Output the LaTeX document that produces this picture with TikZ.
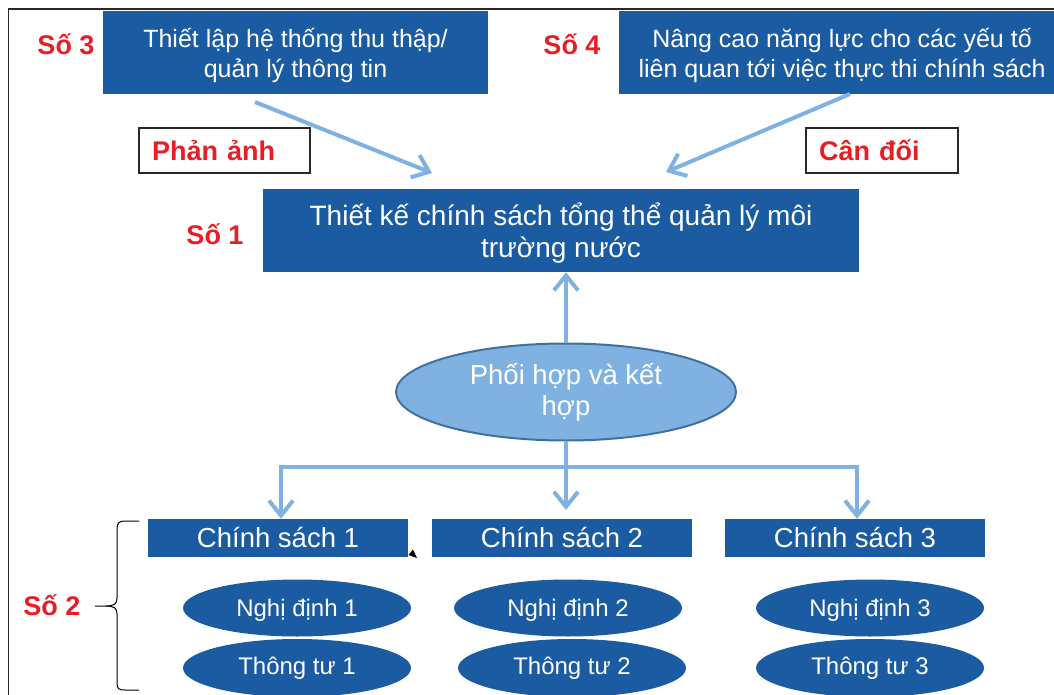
\documentclass[tikz,border=0pt]{standalone}
\usepackage{fontspec}
\setmainfont{Liberation Sans}
\usetikzlibrary{arrows.meta,shapes.geometric}
\definecolor{boxblue}{RGB}{26,91,161}
\definecolor{lineblue}{RGB}{127,178,224}
\definecolor{edgeblue}{RGB}{65,113,156}
\definecolor{labelred}{RGB}{232,30,37}
\definecolor{framegray}{RGB}{40,40,40}

\begin{document}
\begin{tikzpicture}[x=1pt,y=-1pt,
  bluebox/.style={fill=boxblue,text=white,inner sep=0pt,align=center,anchor=center},
  topfont/.style={font=\fontsize{25}{30}\selectfont},
  numlabel/.style={text=labelred,font=\bfseries\fontsize{27}{32}\selectfont,inner sep=0pt,anchor=base},
  tagbox/.style={draw=framegray,line width=1.3pt,fill=white,text=labelred,
    font=\bfseries\fontsize{27}{32}\selectfont,inner xsep=13pt,inner ysep=0pt,
    align=left,minimum height=45pt,anchor=center},
  flow/.style={draw=lineblue,line width=4pt,-{Straight Barb[length=15pt,width=24pt]}},
  trunk/.style={draw=lineblue,line width=4pt},
  leaf/.style={ellipse,fill=boxblue,text=white,inner sep=0pt,
    minimum width=228pt,font=\fontsize{24}{28}\selectfont}
]
\useasboundingbox (0,0) rectangle (1054,695);

% outer frame (right and bottom sides lie off the page)
\draw[framegray,line width=1.5pt] (8.5,700) -- (8.5,9) -- (1060,9);

% top row
\node[bluebox,topfont,text depth=0pt,minimum width=385pt,minimum height=83pt] (info) at (295.5,52.5)
  {Thiết lập hệ thống thu thập/\\quản lý thông tin};
\node[bluebox,topfont,text depth=0pt,minimum width=446pt,minimum height=83pt] (capacity) at (842,52.5)
  {Nâng cao năng lực cho các yếu tố\\liên quan tới việc thực thi chính sách};
\node[numlabel] (n3) at (66,55) {Số 3};
\node[numlabel] (n4) at (572,55) {Số 4};

% labelled tags
\node[tagbox,text width=145pt] (reflect) at (224.5,150.5) {Phản ảnh};
\node[tagbox,text width=126pt] (balance) at (882,150.5) {Cân đối};

% overall policy design
\node[bluebox,font=\fontsize{28}{32}\selectfont,text depth=-2pt,minimum width=596pt,minimum height=83pt]
  (design) at (561,230.5) {Thiết kế chính sách tổng thể quản lý môi\\trường nước};
\node[numlabel] (n1) at (215,244) {Số 1};

% feeding arrows from the top boxes
\coordinate (a1from) at (255,102);
\coordinate (a1to) at (432,173);
\coordinate (a2from) at (850,94);
\coordinate (a2to) at (666,172);
\draw[flow] (a1from) -- (a1to);
\draw[flow] (a2from) -- (a2to);

% coordination ellipse
\node[ellipse,fill=lineblue,draw=edgeblue,line width=2pt,minimum width=340pt,
  minimum height=97pt,inner sep=0pt,text=white,align=center,
  font=\fontsize{27.5}{31}\selectfont] (coord) at (566,392) {Phối hợp và kết\\hợp};
\draw[flow] (coord.north) -- (coord.north |- design.south);

% policies
\node[bluebox,font=\fontsize{27.5}{32}\selectfont,minimum width=260pt,minimum height=38pt]
  (cs1) at (278,538) {Chính sách 1};
\node[bluebox,font=\fontsize{27.5}{32}\selectfont,minimum width=260pt,minimum height=38pt]
  (cs2) at (562,538) {Chính sách 2};
\node[bluebox,font=\fontsize{27.5}{32}\selectfont,minimum width=260pt,minimum height=38pt]
  (cs3) at (855,538) {Chính sách 3};

% distribution bar
\coordinate (bar) at (566,467);
\coordinate (barL) at (281,467);
\coordinate (barR) at (857,467);
\coordinate (midtip) at (566,510);
\draw[trunk] (coord.south) -- (bar);
\draw[flow] (bar) -- (barL) -- (barL |- cs1.north);
\draw[flow] (bar) -- (barR) -- (barR |- cs3.north);
\draw[flow] (bar) -- (midtip);

% stray arrowhead beside the first policy
\fill[black] (408.5,555) -- (413,549.5) -- (417,558) -- cycle;

% decrees and circulars
\node[leaf,text depth=0pt,minimum height=57pt] (nd1) at (297,608) {Nghị định 1};
\node[leaf,text depth=0pt,minimum height=57pt] (nd2) at (568,608) {Nghị định 2};
\node[leaf,text depth=0pt,minimum height=57pt] (nd3) at (870,608) {Nghị định 3};
\node[leaf,minimum height=58pt] (tt1) at (297,668) {Thông tư 1};
\node[leaf,minimum height=58pt] (tt2) at (572,668) {Thông tư 2};
\node[leaf,minimum height=58pt] (tt3) at (870,668) {Thông tư 3};

% brace grouping the second level
\draw[black,line width=1pt]
  (139,521) -- (125,521) .. controls (119,521) and (117,523) .. (117,529)
  -- (117,598) .. controls (117,604) and (114,606) .. (106,606) -- (95,606);
\draw[black,line width=1pt]
  (106,606) .. controls (114,606) and (117,608) .. (117,614)
  -- (117,683) .. controls (117,689) and (119,690) .. (125,690) -- (139,690);
\node[numlabel] (n2) at (52,615) {Số 2};
\end{tikzpicture}
\end{document}
